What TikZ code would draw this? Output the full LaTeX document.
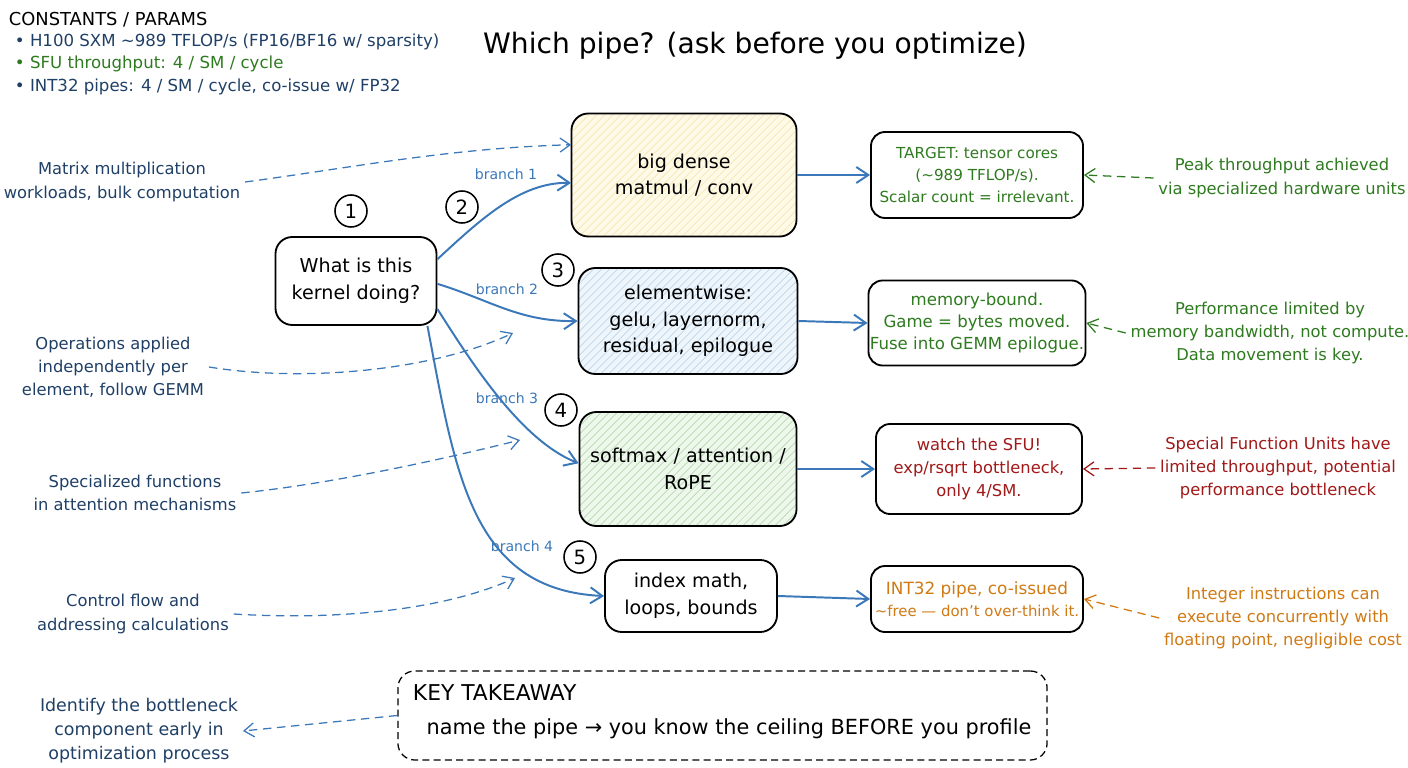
\documentclass[tikz,border=0pt]{standalone}
\usepackage{fontspec}
\setmainfont{DejaVu Sans}
\usetikzlibrary{arrows.meta,patterns.meta}
\definecolor{navy}{HTML}{1F3F66}
\definecolor{pipeblue}{HTML}{3B78B9}
\definecolor{okgreen}{HTML}{2E7A1F}
\definecolor{warnred}{HTML}{A01818}
\definecolor{intorange}{HTML}{D07A14}
\definecolor{matfill}{HTML}{FFFAE8}
\definecolor{matline}{HTML}{F0E3A6}
\definecolor{eltfill}{HTML}{EEF5FB}
\definecolor{eltline}{HTML}{B2D0E8}
\definecolor{attfill}{HTML}{EEF7EC}
\definecolor{attline}{HTML}{A8D4A0}
\tikzset{
  kbox/.style={draw=black,line width=1.3pt,rounded corners=12pt,align=center,inner sep=0pt,font=\fontsize{13.6}{19}\selectfont},
  rbox/.style={draw=black,line width=1.3pt,rounded corners=10pt,align=center,inner sep=0pt},
  hatch/.style 2 args={preaction={fill=#1},pattern={Lines[angle=45,distance=4pt,line width=0.5pt]},pattern color=#2},
  note/.style={align=center,font=\fontsize{11.6}{16.5}\selectfont},
  num/.style={draw,circle,line width=1.1pt,minimum size=0.8cm,inner sep=0pt,font=\fontsize{14}{14}\selectfont},
  br/.style={pipeblue,line width=1.4pt,-{Straight Barb[length=3mm,width=4mm]}},
  blab/.style={pipeblue,font=\fontsize{10}{12}\selectfont},
  hint/.style={line width=0.9pt,dash pattern=on 6pt off 4pt,-{Straight Barb[length=2.5mm,width=3.5mm]}}
}

\begin{document}
\begin{tikzpicture}[x=0.025cm,y=-0.025cm]
\useasboundingbox (0,0) rectangle (1408,768);

% header
\node[anchor=west,font=\fontsize{12.7}{14}\selectfont] (cst) at (4,20) {CONSTANTS / PARAMS};
\node[anchor=west,navy,font=\fontsize{11.8}{13}\selectfont] (cst1) at (10,42) {\textbullet\ H100 SXM \textasciitilde989 TFLOP/s (FP16/BF16 w/ sparsity)};
\node[anchor=west,okgreen,font=\fontsize{11.8}{13}\selectfont] (cst2) at (10,64) {\textbullet\ SFU throughput: 4 / SM / cycle};
\node[anchor=west,navy,font=\fontsize{11.8}{13}\selectfont] (cst3) at (10,87) {\textbullet\ INT32 pipes: 4 / SM / cycle, co-issue w/ FP32};
\node[font=\fontsize{20}{24}\selectfont] (title) at (755,46) {Which pipe? (ask before you optimize)};

% question and pipes
\node[kbox,minimum width=4.025cm,minimum height=2.2cm] (q) at (356,281) {What is this\\kernel doing?};
\node[kbox,hatch={matfill}{matline},minimum width=5.625cm,minimum height=3.075cm] (big) at (684,175) {big dense\\matmul / conv};
\node[kbox,hatch={eltfill}{eltline},minimum width=5.475cm,minimum height=2.65cm] (elem) at (688,321) {elementwise:\\gelu, layernorm,\\residual, epilogue};
\node[kbox,hatch={attfill}{attline},minimum width=5.425cm,minimum height=2.85cm] (soft) at (688,469) {softmax / attention /\\RoPE};
\node[kbox,minimum width=4.3cm,minimum height=1.8cm] (idx) at (691,596) {index math,\\loops, bounds};

\node[num] (c1) at (351,211) {1};
\node[num] (c2) at (462,207) {2};
\node[num] (c3) at (558,270) {3};
\node[num] (c4) at (561,410) {4};
\node[num] (c5) at (580,557) {5};

% verdicts
\node[rbox,text=okgreen,font=\fontsize{10.8}{15.6}\selectfont,minimum width=5.3cm,minimum height=2.15cm] (tgt) at (977,175) {TARGET: tensor cores\\(\textasciitilde989 TFLOP/s).\\Scalar count = irrelevant.};
\node[rbox,text=okgreen,font=\fontsize{11.8}{15.6}\selectfont,minimum width=5.425cm,minimum height=2.125cm] (mem) at (977,323) {memory-bound.\\Game = bytes moved.\\Fuse into GEMM epilogue.};
\node[rbox,text=warnred,font=\fontsize{11.6}{16.5}\selectfont,minimum width=5.15cm,minimum height=2.25cm] (sfu) at (979,469) {watch the SFU!\\exp/rsqrt bottleneck,\\only 4/SM.};
\node[rbox,text=intorange,font=\fontsize{12}{16}\selectfont,minimum width=5.3cm,minimum height=1.65cm] (int) at (977,599) {INT32 pipe, co-issued\\{\fontsize{10.6}{14}\selectfont\textasciitilde free --- don't over-think it.}};

% side notes
\node[note,navy] (n1) at (122,182) {Matrix multiplication\\workloads, bulk computation};
\node[note,navy] (n2) at (113,367) {Operations applied\\independently per\\element, follow GEMM};
\node[note,navy] (n3) at (135,493) {Specialized functions\\in attention mechanisms};
\node[note,navy] (n4) at (133,614) {Control flow and\\addressing calculations};
\node[note,navy,font=\fontsize{12.4}{17}\selectfont] (n5) at (139,731) {Identify the bottleneck\\component early in\\optimization process};
\node[note,okgreen] (p1) at (1282,178) {Peak throughput achieved\\via specialized hardware units};
\node[note,okgreen] (p2) at (1270,333) {Performance limited by\\memory bandwidth, not compute.\\Data movement is key.};
\node[note,warnred] (p3) at (1278,468) {Special Function Units have\\limited throughput, potential\\performance bottleneck};
\node[note,intorange] (p4) at (1283,618) {Integer instructions can\\execute concurrently with\\floating point, negligible cost};

% takeaway
\node[draw,line width=0.9pt,dash pattern=on 5pt off 3pt,rounded corners=12pt,minimum width=16.225cm,minimum height=2.225cm] (key) at (722.5,715.5) {};
\node[anchor=west,font=\fontsize{15.5}{17}\selectfont] (kt) at (408,693) {KEY TAKEAWAY};
\node[font=\fontsize{14.8}{17}\selectfont] (kl) at (729,729) {name the pipe → you know the ceiling BEFORE you profile};

% branches
\draw[br] (q.15) .. controls (480,220) and (520,182) .. (big.184);
\draw[br] (q.-2) .. controls (490,300) and (520,322) .. (elem.west);
\draw[br] (q.-19) .. controls (470,360) and (520,440) .. (soft.177);
\draw[br] ([xshift=-0.25cm]q.south east) .. controls (455,470) and (470,590) .. (idx.west);
\node[blab] (b1) at (506,174) {branch 1};
\node[blab] (b2) at (507,289) {branch 2};
\node[blab] (b3) at (507,398) {branch 3};
\node[blab] (b4) at (522,546) {branch 4};

\draw[br] (big.east) -- (tgt.west);
\draw[br] (elem.east) -- (mem.west);
\draw[br] (soft.east) -- (sfu.west);
\draw[br] (idx.east) -- (int.west);

% dashed hints
\coordinate (h2) at (513,333);
\coordinate (h3) at (520,440);
\coordinate (h4) at (515,578);
\draw[hint,pipeblue] (n1.east) .. controls (350,168) and (450,148) .. (big.165);
\draw[hint,pipeblue] (n2.east) .. controls (300,382) and (430,372) .. (h2);
\draw[hint,pipeblue] (n3.east) .. controls (330,484) and (440,460) .. (h3);
\draw[hint,pipeblue] (n4.east) .. controls (330,620) and (440,612) .. (h4);
\draw[hint,pipeblue] (key.west) -- (n5.east);
\draw[hint,okgreen] (p1.west) -- (tgt.east);
\draw[hint,okgreen] (p2.west) -- (mem.east);
\draw[hint,warnred] (p3.west) -- (sfu.east);
\draw[hint,intorange] (p4.west) -- (int.east);
\end{tikzpicture}
\end{document}
